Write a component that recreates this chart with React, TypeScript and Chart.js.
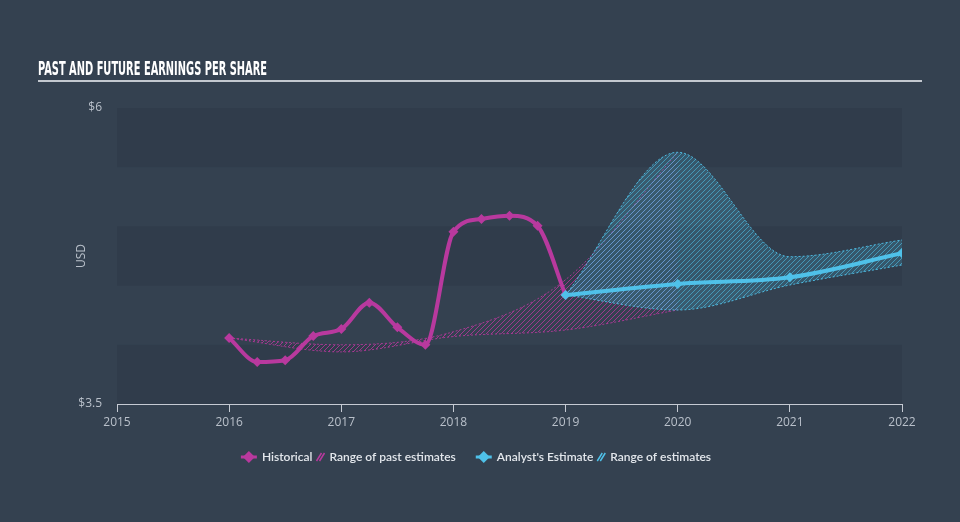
import React, { useEffect, useRef } from 'react';
import { Chart, registerables } from 'chart.js';

Chart.register(...registerables);

// ---- Data ----
const historicalYears = [2016, 2016.25, 2016.5, 2016.75, 2017, 2017.25, 2017.5, 2017.75, 2018, 2018.25, 2018.5, 2018.75, 2019];
const historicalEps = [4.057, 3.855, 3.87, 4.074, 4.133, 4.355, 4.148, 4.0, 4.955, 5.063, 5.09, 5.005, 4.42];

const estimateYears = [2019, 2020, 2021, 2022];
const analystEstimate = [4.42, 4.514, 4.57, 4.773];
const estimateLow = [4.42, 4.294, 4.505, 4.674];
const estimateHigh = [4.42, 5.626, 4.744, 4.885];

const pastRangeYears = [2016, 2017, 2018, 2019, 2020];
const pastRangeLow = [4.057, 3.94, 4.07, 4.125, 4.294];
const pastRangeHigh = [4.057, 4.0, 4.11, 4.55, 5.626];

const xTickValues = [2015, 2016, 2017, 2018, 2019, 2020, 2021, 2022];
const yTickValues = [3.5, 6];
const bandRanges = [[3.5, 4], [4.5, 5], [5.5, 6]];

const titleText = 'PAST AND FUTURE EARNINGS PER SHARE';
const yAxisTitle = 'USD';
const legendItems = [
  { kind: 'line', label: 'Historical', color: '#b8399e' },
  { kind: 'hatch', label: 'Range of past estimates', color: '#b8399e' },
  { kind: 'line', label: "Analyst's Estimate", color: '#4fc1e9' },
  { kind: 'hatch', label: 'Range of estimates', color: '#4fc1e9' },
];

const BG = '#344150';
const BAND = '#303c4b';
const MAGENTA = '#b8399e';
const BLUE = '#4fc1e9';
const TEXT = '#b9c0ca';

function makePattern(line: string, base: string | null): CanvasPattern | string {
  const c = document.createElement('canvas');
  c.width = 5;
  c.height = 5;
  const g = c.getContext('2d');
  if (!g) return line;
  if (base) {
    g.fillStyle = base;
    g.fillRect(0, 0, 5, 5);
  }
  g.strokeStyle = line;
  g.lineWidth = 1;
  g.beginPath();
  g.moveTo(0, 5);
  g.lineTo(5, 0);
  g.moveTo(-1, 1);
  g.lineTo(1, -1);
  g.moveTo(4, 6);
  g.lineTo(6, 4);
  g.stroke();
  const p = g.createPattern(c, 'repeat');
  return p || line;
}

const pts = (xs: number[], ys: number[]) => xs.map((x, i) => ({ x, y: ys[i] }));

const decorPlugin = {
  id: 'decor',
  beforeDraw(chart: any) {
    const { ctx, chartArea, scales } = chart;
    const y = scales.y;
    ctx.save();
    ctx.fillStyle = BG;
    ctx.fillRect(0, 0, chart.width, chart.height);
    ctx.fillStyle = BAND;
    bandRanges.forEach(([a, b]) => {
      const top = y.getPixelForValue(b);
      const bot = y.getPixelForValue(a);
      ctx.fillRect(chartArea.left, top, chartArea.right - chartArea.left, bot - top);
    });
    ctx.restore();
  },
  afterDraw(chart: any) {
    const { ctx, chartArea } = chart;
    ctx.save();
    // Title
    ctx.fillStyle = '#ffffff';
    ctx.font = 'bold 20px "Liberation Sans Narrow", "DejaVu Sans Condensed", sans-serif';
    ctx.textBaseline = 'alphabetic';
    ctx.textAlign = 'left';
    const w = ctx.measureText(titleText).width;
    const target = 229;
    ctx.save();
    ctx.translate(38, 75);
    ctx.scale(target / w, 1);
    ctx.fillText(titleText, 0, 0);
    ctx.restore();
    ctx.strokeStyle = '#c3c8cf';
    ctx.lineWidth = 2;
    ctx.beginPath();
    ctx.moveTo(38, 81);
    ctx.lineTo(922, 81);
    ctx.stroke();

    // Y axis title
    ctx.save();
    ctx.translate(82, (chartArea.top + chartArea.bottom) / 2);
    ctx.rotate(-Math.PI / 2);
    ctx.fillStyle = TEXT;
    ctx.font = '12px "Open Sans", sans-serif';
    ctx.textAlign = 'center';
    ctx.textBaseline = 'middle';
    ctx.fillText(yAxisTitle, 0, 0);
    ctx.restore();

    // Legend
    ctx.font = '600 12px Lato, "Open Sans", sans-serif';
    ctx.textBaseline = 'middle';
    ctx.textAlign = 'left';
    const ly = 457;
    const parts = legendItems.map((it, i) => {
      const iconW = it.kind === 'line' ? 16 : 8;
      const gapBefore = i === 0 ? 0 : it.kind === 'line' ? 20 : 4;
      const tw = ctx.measureText(it.label).width;
      return { it, iconW, gapBefore, tw };
    });
    const total = parts.reduce((s, p) => s + p.gapBefore + p.iconW + 5 + p.tw, 0);
    let x = 476 - total / 2;
    parts.forEach(({ it, iconW, gapBefore, tw }) => {
      x += gapBefore;
      if (it.kind === 'line') {
        ctx.strokeStyle = it.color;
        ctx.lineWidth = 3;
        ctx.beginPath();
        ctx.moveTo(x, ly);
        ctx.lineTo(x + iconW, ly);
        ctx.stroke();
        ctx.fillStyle = it.color;
        ctx.beginPath();
        const cx = x + iconW / 2;
        ctx.moveTo(cx, ly - 6);
        ctx.lineTo(cx + 6, ly);
        ctx.lineTo(cx, ly + 6);
        ctx.lineTo(cx - 6, ly);
        ctx.closePath();
        ctx.fill();
      } else {
        ctx.strokeStyle = it.color;
        ctx.lineWidth = 1.5;
        ctx.beginPath();
        ctx.moveTo(x, ly + 4);
        ctx.lineTo(x + 5, ly - 4);
        ctx.moveTo(x + 3, ly + 4);
        ctx.lineTo(x + 8, ly - 4);
        ctx.stroke();
      }
      x += iconW + 5;
      ctx.fillStyle = '#e3e7ec';
      ctx.fillText(it.label, x, ly + 0.5);
      x += tw;
    });
    ctx.restore();
  },
};

export default function App() {
  const ref = useRef<HTMLCanvasElement | null>(null);

  useEffect(() => {
    document.body.style.margin = '0';
    document.body.style.background = BG;
    const canvas = ref.current;
    if (!canvas) return;
    const magPattern = makePattern('rgba(190,55,160,0.75)', null);
    const bluePattern = makePattern('rgba(79,193,233,0.6)', 'rgba(79,193,233,0.2)');

    const chart = new Chart(canvas, {
      type: 'line',
      data: {
        datasets: [
          {
            label: 'pastLow',
            data: pts(pastRangeYears, pastRangeLow),
            borderColor: 'rgba(190,55,160,0.8)',
            borderWidth: 1,
            borderDash: [2, 2],
            pointRadius: 0,
            fill: false,
            cubicInterpolationMode: 'monotone',
            order: 5,
          },
          {
            label: 'pastHigh',
            data: pts(pastRangeYears, pastRangeHigh),
            borderColor: 'rgba(190,55,160,0.8)',
            borderWidth: 1,
            borderDash: [2, 2],
            pointRadius: 0,
            backgroundColor: magPattern as any,
            fill: '-1',
            cubicInterpolationMode: 'monotone',
            order: 4,
          },
          {
            label: 'estLow',
            data: pts(estimateYears, estimateLow),
            borderColor: 'rgba(79,193,233,0.9)',
            borderWidth: 1,
            borderDash: [2, 2],
            pointRadius: 0,
            fill: false,
            cubicInterpolationMode: 'monotone',
            order: 3,
          },
          {
            label: 'estHigh',
            data: pts(estimateYears, estimateHigh),
            borderColor: 'rgba(79,193,233,0.9)',
            borderWidth: 1,
            borderDash: [2, 2],
            pointRadius: 0,
            backgroundColor: bluePattern as any,
            fill: '-1',
            cubicInterpolationMode: 'monotone',
            order: 2,
          },
          {
            label: 'Historical',
            data: pts(historicalYears, historicalEps),
            borderColor: MAGENTA,
            backgroundColor: MAGENTA,
            borderWidth: 4,
            pointStyle: 'rectRot',
            pointRadius: 5,
            pointBorderWidth: 0,
            fill: false,
            cubicInterpolationMode: 'monotone',
            order: 1,
          },
          {
            label: "Analyst's Estimate",
            data: pts(estimateYears, analystEstimate),
            borderColor: BLUE,
            backgroundColor: BLUE,
            borderWidth: 4,
            pointStyle: 'rectRot',
            pointRadius: 5,
            pointBorderWidth: 0,
            fill: false,
            cubicInterpolationMode: 'monotone',
            order: 0,
          },
        ],
      },
      options: {
        animation: false,
        responsive: false,
        devicePixelRatio: 1,
        layout: { padding: { top: 108, right: 58, left: 0, bottom: 0 } },
        plugins: {
          legend: { display: false },
          title: { display: false },
          tooltip: { enabled: false },
        },
        scales: {
          x: {
            type: 'linear',
            min: 2015,
            max: 2022,
            afterBuildTicks: (s: any) => {
              s.ticks = xTickValues.map((v) => ({ value: v }));
            },
            afterFit: (s: any) => {
              s.height = 118;
            },
            ticks: {
              color: TEXT,
              font: { size: 12, family: '"Liberation Sans Narrow", "Open Sans", sans-serif' },
              padding: 3,
              maxRotation: 0,
              autoSkip: false,
              callback: (v: any) => String(v),
            },
            grid: { drawOnChartArea: false, drawTicks: true, tickLength: 8, color: '#c5cad3' },
            border: { display: true, color: '#c5cad3', width: 1 },
          },
          y: {
            type: 'linear',
            min: 3.5,
            max: 6,
            afterBuildTicks: (s: any) => {
              s.ticks = yTickValues.map((v) => ({ value: v }));
            },
            afterFit: (s: any) => {
              s.width = 117;
            },
            ticks: {
              color: TEXT,
              font: { size: 12, family: '"Open Sans", sans-serif' },
              padding: 15,
              callback: (v: any) => '$' + v,
            },
            grid: { display: false, drawTicks: false },
            border: { display: false },
          },
        },
      },
      plugins: [decorPlugin],
    } as any);
    return () => chart.destroy();
  }, []);

  return (
    <div style={{ width: 960, height: 522, background: BG }}>
      <canvas ref={ref} width={960} height={522} style={{ display: 'block', width: 960, height: 522 }} />
    </div>
  );
}
